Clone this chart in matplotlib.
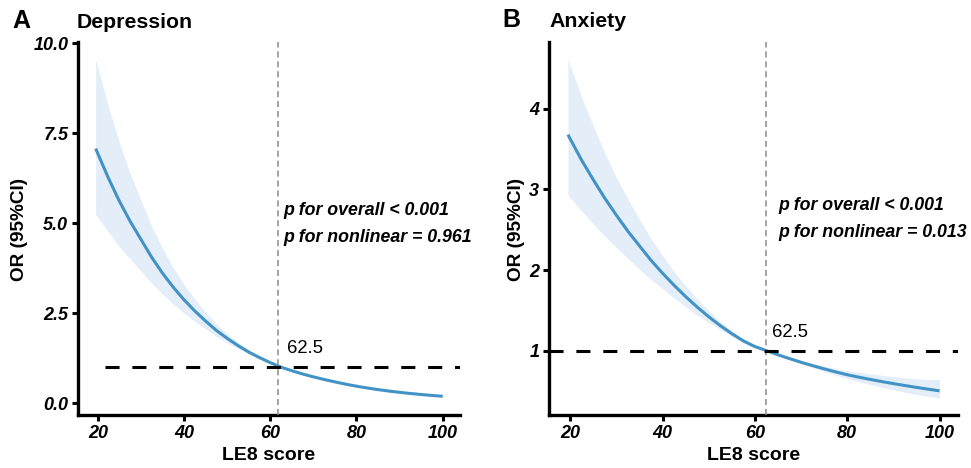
import numpy as np
import matplotlib.pyplot as plt

plt.rcParams['font.family'] = ['Liberation Sans', 'DejaVu Sans']

# LE8 score grid
le8 = [19.5, 22.5, 25, 27.5, 30, 32.5, 35, 37.5, 40, 42.5, 45, 47.5, 50, 52.5, 55, 57.5, 60,
       62.5, 65, 67.5, 70, 72.5, 75, 77.5, 80, 82.5, 85, 87.5, 90, 92.5, 95, 97.5, 100]

# Depression
dep_or = [7.07, 6.24, 5.61, 5.05, 4.55, 4.05, 3.61, 3.22, 2.87, 2.56, 2.28, 2.02, 1.80, 1.60, 1.42, 1.265, 1.125,
          1.00, 0.90, 0.81, 0.73, 0.657, 0.59, 0.527, 0.471, 0.421, 0.376, 0.336, 0.30, 0.268, 0.24, 0.214, 0.191]
dep_hi = [9.55, 8.22, 7.24, 6.38, 5.64, 4.92, 4.30, 3.76, 3.29, 2.89, 2.52, 2.20, 1.93, 1.69, 1.47, 1.294, 1.136,
          1.00, 0.903, 0.816, 0.738, 0.668, 0.603, 0.541, 0.486, 0.437, 0.393, 0.353, 0.317, 0.285, 0.257, 0.230, 0.207]
dep_lo = [5.24, 4.74, 4.35, 4.00, 3.67, 3.33, 3.03, 2.75, 2.50, 2.27, 2.06, 1.855, 1.68, 1.52, 1.37, 1.237, 1.114,
          1.00, 0.897, 0.804, 0.722, 0.646, 0.577, 0.513, 0.456, 0.405, 0.360, 0.320, 0.284, 0.252, 0.224, 0.199, 0.176]

# Anxiety
anx_or = [3.68, 3.36, 3.12, 2.89, 2.68, 2.48, 2.30, 2.12, 1.96, 1.81, 1.67, 1.54, 1.42, 1.31, 1.21, 1.12, 1.05,
          1.00, 0.948, 0.90, 0.855, 0.813, 0.773, 0.735, 0.70, 0.67, 0.642, 0.615, 0.59, 0.566, 0.543, 0.521, 0.50]
anx_hi = [4.62, 4.14, 3.79, 3.45, 3.15, 2.88, 2.63, 2.39, 2.18, 1.98, 1.805, 1.64, 1.495, 1.36, 1.245, 1.14, 1.058,
          1.00, 0.952, 0.910, 0.872, 0.838, 0.806, 0.777, 0.751, 0.730, 0.711, 0.693, 0.677, 0.663, 0.649, 0.640, 0.640]
anx_lo = [2.93, 2.73, 2.57, 2.42, 2.28, 2.14, 2.01, 1.88, 1.77, 1.65, 1.545, 1.44, 1.35, 1.26, 1.18, 1.10, 1.042,
          1.00, 0.944, 0.890, 0.838, 0.789, 0.741, 0.695, 0.653, 0.615, 0.580, 0.545, 0.514, 0.483, 0.455, 0.430, 0.410]

panels = [
    dict(letter='A', title='Depression', y=dep_or, hi=dep_hi, lo=dep_lo,
         ylim=(-0.33, 10.03), yticks=[0, 2.5, 5, 7.5, 10],
         ylabels=['0.0', '2.5', '5.0', '7.5', '10.0'], cut=61.9,
         p1='p for overall < 0.001', p2='p for nonlinear = 0.961',
         rect=[0.0803, 0.1132, 0.3934, 0.797], hstart=21.6,
         ptx=0.537, pty=(0.548, 0.476), cutlab=(63.9, 1.53),
         ylab_x=-0.130, lx=0.0124, tx=0.0793, ty=0.940),
    dict(letter='B', title='Anxiety', y=anx_or, hi=anx_hi, lo=anx_lo,
         ylim=(0.2, 4.83), yticks=[1, 2, 3, 4],
         ylabels=['1', '2', '3', '4'], cut=62.4,
         p1='p for overall < 0.001', p2='p for nonlinear = 0.013',
         rect=[0.5654, 0.1132, 0.4212, 0.797], hstart=None,
         ptx=0.562, pty=(0.561, 0.49), cutlab=(63.7, 1.23),
         ylab_x=-0.0587, lx=0.5177, tx=0.5657, ty=0.942),
]

fig = plt.figure(figsize=(9.71, 4.68), dpi=100)

for p in panels:
    ax = fig.add_axes(p['rect'])
    ax.fill_between(le8, p['lo'], p['hi'], color='#deebf7', alpha=0.85, lw=0, zorder=1)
    ax.plot(le8, p['y'], color='#4292c6', lw=2.2, zorder=2, solid_capstyle='butt')
    ax.axvline(p['cut'], color='#8c8c8c', lw=1.1, ls=(0, (4, 2.5)), zorder=3)
    if p['hstart'] is None:
        ax.axhline(1, color='black', lw=2.2, ls=(0, (4.6, 4.2)), zorder=3)
    else:
        ax.hlines(1, p['hstart'], 104, color='black', lw=2.2, ls=(0, (4.6, 4.2)), zorder=3)

    ax.set_xlim(15.4, 104)
    ax.set_ylim(*p['ylim'])
    ax.set_xticks([20, 40, 60, 80, 100])
    ax.set_yticks(p['yticks'])
    ax.set_yticklabels(p['ylabels'])
    for lab in ax.get_xticklabels() + ax.get_yticklabels():
        lab.set_fontweight('bold')
        lab.set_fontstyle('italic')
        lab.set_fontsize(13)
    ax.tick_params(axis='both', length=4, width=2.2, color='black', pad=3)
    for s in ['top', 'right']:
        ax.spines[s].set_visible(False)
    for s in ['left', 'bottom']:
        ax.spines[s].set_linewidth(2.4)
    ax.set_xlabel('LE8 score', fontsize=14, fontweight='bold')
    ax.set_ylabel('OR (95%CI)', fontsize=13.7, fontweight='bold')
    ax.xaxis.set_label_coords(0.5, -0.085)
    ax.yaxis.set_label_coords(p['ylab_x'], 0.497)

    ax.text(p['cutlab'][0], p['cutlab'][1], '62.5', fontsize=13.3, va='center')
    ax.text(p['ptx'], p['pty'][0], p['p1'], transform=ax.transAxes,
            fontsize=12.8, fontweight='bold', fontstyle='italic', va='center')
    ax.text(p['ptx'], p['pty'][1], p['p2'], transform=ax.transAxes,
            fontsize=12.8, fontweight='bold', fontstyle='italic', va='center')

    fig.text(p['lx'], p['ty'], p['letter'], fontsize=18, fontweight='bold', va='baseline')
    fig.text(p['tx'], p['ty'], p['title'], fontsize=15.3, fontweight='bold', va='baseline')

fig.savefig('out.png', dpi=100)
